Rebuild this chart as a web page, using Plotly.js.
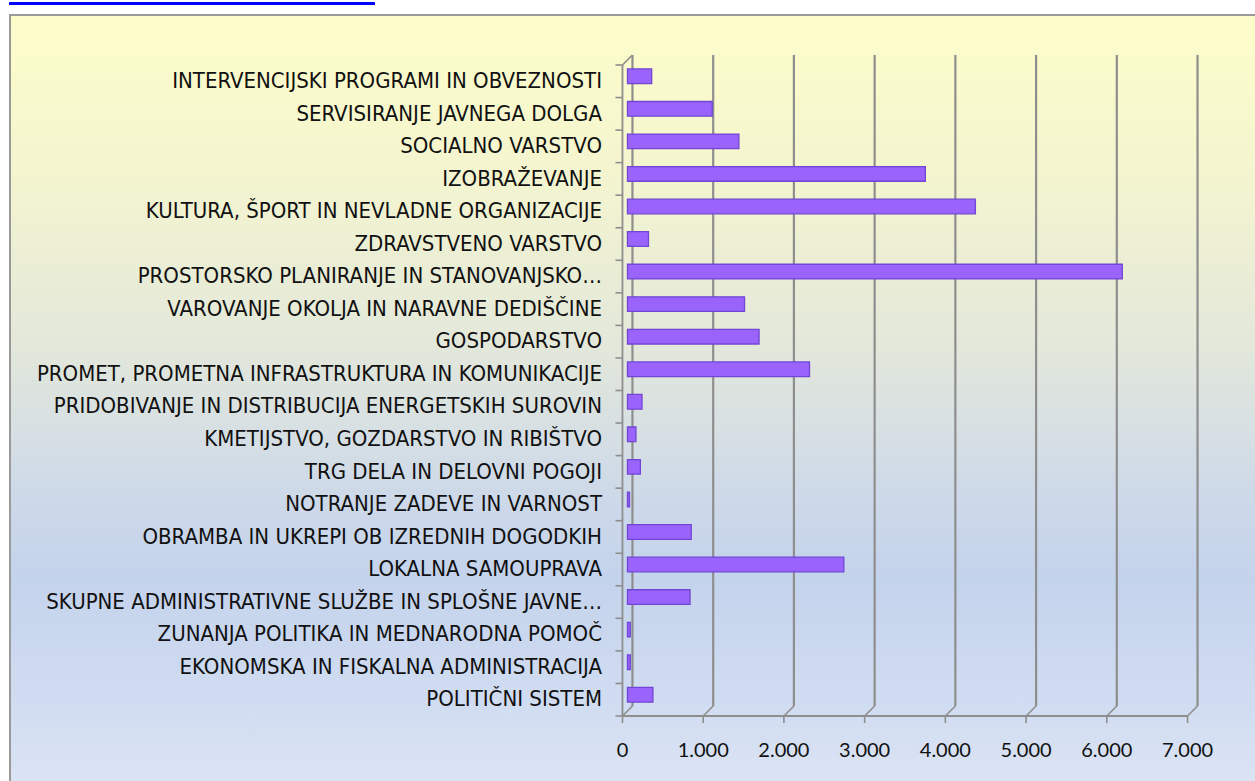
<!DOCTYPE html>
<html>
<head>
<meta charset="utf-8">
<script src="https://cdn.plot.ly/plotly-3.0.1.min.js"></script>
<style>
  html, body { margin: 0; padding: 0; background: #ffffff; width: 1255px; height: 781px; overflow: hidden; }
  #link { position: absolute; left: 9px; top: 2px; width: 366px; height: 0; border-bottom: 3px solid #0000ff; }
  #box { position: absolute; left: 9px; top: 14px; width: 1260px; height: 780px;
         border-left: 2px solid #9a9a9a; border-top: 2px solid #9a9a9a;
         background: linear-gradient(to bottom, #fdfdca 0%, #f4f5cf 20%, #e3e8da 42%, #cfdae8 60%, #c4d3ec 72%, #d0dcf1 88%, #dde5f4 100%); }
  #chart { position: absolute; left: 0; top: 0; width: 1255px; height: 781px; }
</style>
</head>
<body>
<div id="link"></div>
<div id="box"></div>
<div id="chart"></div>
<script>
// ---- data (top to bottom as in the chart) ----
const categories = [
  "INTERVENCIJSKI PROGRAMI IN OBVEZNOSTI",
  "SERVISIRANJE JAVNEGA DOLGA",
  "SOCIALNO VARSTVO",
  "IZOBRAŽEVANJE",
  "KULTURA, ŠPORT IN NEVLADNE ORGANIZACIJE",
  "ZDRAVSTVENO VARSTVO",
  "PROSTORSKO PLANIRANJE IN STANOVANJSKO…",
  "VAROVANJE OKOLJA IN NARAVNE DEDIŠČINE",
  "GOSPODARSTVO",
  "PROMET, PROMETNA INFRASTRUKTURA IN KOMUNIKACIJE",
  "PRIDOBIVANJE IN DISTRIBUCIJA ENERGETSKIH SUROVIN",
  "KMETIJSTVO, GOZDARSTVO IN RIBIŠTVO",
  "TRG DELA IN DELOVNI POGOJI",
  "NOTRANJE ZADEVE IN VARNOST",
  "OBRAMBA IN UKREPI OB IZREDNIH DOGODKIH",
  "LOKALNA SAMOUPRAVA",
  "SKUPNE ADMINISTRATIVNE SLUŽBE IN SPLOŠNE JAVNE…",
  "ZUNANJA POLITIKA IN MEDNARODNA POMOČ",
  "EKONOMSKA IN FISKALNA ADMINISTRACIJA",
  "POLITIČNI SISTEM"
];
const values = [
  300, 1050, 1380, 3690, 4310, 260, 6130, 1450, 1630, 2255,
  180, 105, 160, 25, 790, 2680, 775, 35, 35, 315
];
const tickVals = [0, 1000, 2000, 3000, 4000, 5000, 6000, 7000];
const tickText = ["0", "1.000", "2.000", "3.000", "4.000", "5.000", "6.000", "7.000"];

// ---- layout constants ----
const W = 1255, H = 781;
const margin = {l: 611, r: 46, t: 60, b: 70, pad: 0};
const plotH = H - margin.t - margin.b;
const plotW = W - margin.l - margin.r;
const xRange = [-204, 7204];
const pxPerUnit = plotW / (xRange[1] - xRange[0]);
const depth = 5;               // half depth of the pseudo 3D frame, px
const frameColor = "#8e8e8e";

function seg(xv, x0, y0, x1, y1, w) {
  return {
    type: "line", xref: "x", yref: "paper",
    xsizemode: "pixel", ysizemode: "pixel",
    xanchor: xv, yanchor: 0,
    x0: x0, x1: x1, y0: y0, y1: y1,
    line: {color: frameColor, width: w}, layer: "below"
  };
}

const shapes = [];
const xMax = tickVals[tickVals.length - 1];
tickVals.forEach(v => {
  shapes.push(seg(v, depth, depth, depth, plotH + depth, 2.2));      // back wall gridline
  shapes.push(seg(v, -depth, -depth, depth, depth, 1.6));            // floor diagonal
  shapes.push(seg(v, -depth, -depth, -depth, -depth - 7, 1.6));      // front tick
});
shapes.push(seg(0, -depth, -depth, xMax * pxPerUnit - depth, -depth, 2.2));   // front floor edge
shapes.push(seg(0, -depth, -depth, -depth, plotH - depth, 1.8));             // front left edge
shapes.push(seg(0, -depth, plotH - depth, depth, plotH + depth, 1.6));       // top left diagonal
for (let k = 0; k <= categories.length; k++) {
  const yy = k * plotH / categories.length - depth;
  shapes.push(seg(0, -depth - 7, yy, -depth, yy, 1.6));                      // category ticks
}

const trace = {
  type: "bar",
  orientation: "h",
  y: categories,
  x: values,
  marker: {color: "#9963fc", line: {color: "#7246d4", width: 1.3}},
  hoverinfo: "x+y"
};

const layout = {
  width: W, height: H,
  margin: margin,
  paper_bgcolor: "rgba(0,0,0,0)",
  plot_bgcolor: "rgba(0,0,0,0)",
  showlegend: false,
  bargap: 0.55,
  xaxis: {
    range: xRange,
    tickvals: tickVals, ticktext: tickText,
    showgrid: false, zeroline: false, showline: false, ticks: "",
    ticklabelshift: -5, ticklabelstandoff: 25,
    tickfont: {family: "Lato, 'Open Sans', sans-serif", size: 20, color: "#111111"},
    fixedrange: true
  },
  yaxis: {
    type: "category",
    autorange: "reversed",
    showgrid: false, zeroline: false, showline: false, ticks: "",
    ticklabelshift: -4, ticklabelstandoff: 8,
    tickfont: {family: "'DejaVu Sans Condensed', 'Liberation Sans Narrow', sans-serif", size: 22, color: "#111111"},
    fixedrange: true
  },
  shapes: shapes
};

Plotly.newPlot("chart", [trace], layout, {displayModeBar: false, staticPlot: true});
</script>
</body>
</html>
